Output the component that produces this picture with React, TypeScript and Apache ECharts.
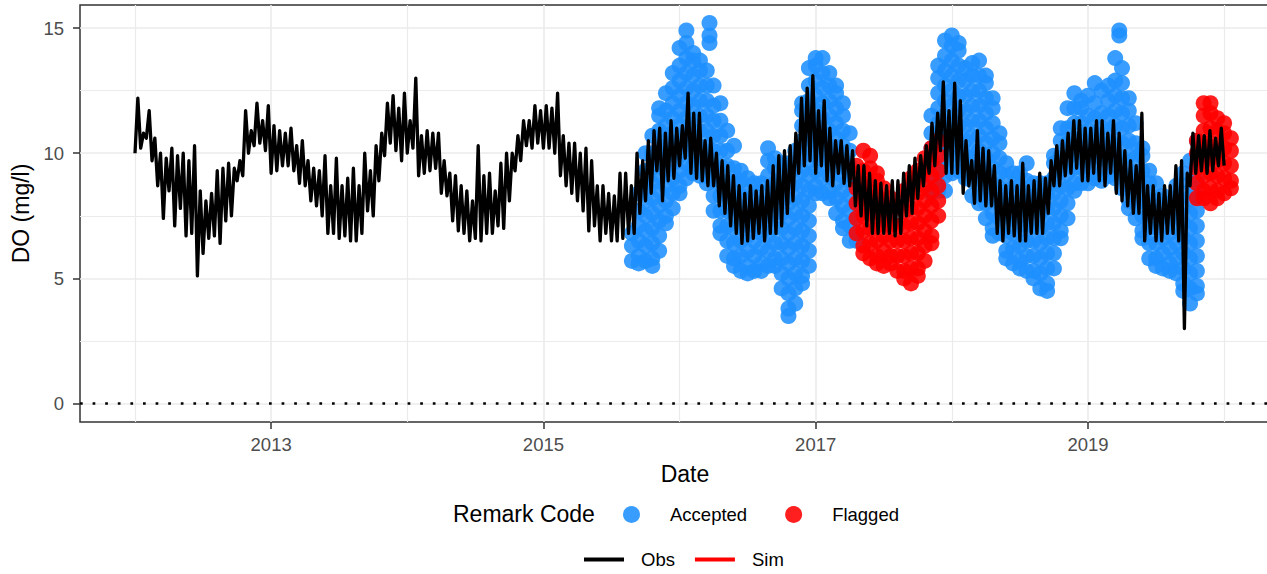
import React, { useEffect, useRef } from 'react';
import * as echarts from 'echarts';

// Obs series: regular samples (48 per year) starting 2012-01-01
const OBS_START = 2012;
const OBS_PER_YEAR = 48;
const obsValues: number[] = [
  // 2012
  10.0, 12.2, 10.2, 10.8, 10.6, 11.7, 9.7, 10.6, 8.7, 10.0, 7.4, 9.8, 8.5, 10.2, 7.1, 9.9, 7.8, 10.0, 6.7, 9.7, 6.8, 10.3, 5.1, 8.5,
  6.0, 8.1, 6.6, 8.4, 6.7, 9.3, 6.4, 9.4, 7.3, 9.6, 7.5, 9.4, 8.9, 9.7, 9.1, 11.7, 10.0, 10.9, 10.3, 12.0, 10.4, 11.3, 10.1, 11.9,
  // 2013
  9.2, 11.1, 9.3, 10.9, 9.5, 10.8, 9.5, 11.0, 9.3, 10.3, 8.8, 10.5, 8.7, 9.7, 8.1, 9.4, 7.9, 9.3, 7.5, 9.9, 6.8, 8.7, 6.8, 9.8,
  6.6, 8.7, 6.7, 9.0, 6.5, 9.4, 6.5, 8.7, 6.8, 10.0, 7.7, 9.3, 7.5, 10.3, 8.9, 10.8, 9.9, 12.0, 10.4, 12.3, 10.1, 11.8, 9.7, 12.4,
  // 2014
  10.0, 11.3, 10.2, 13.0, 9.1, 10.7, 9.2, 10.9, 9.3, 10.8, 9.4, 10.8, 8.4, 9.7, 8.3, 9.2, 7.3, 9.1, 6.9, 8.7, 6.8, 8.5, 6.5, 8.1,
  6.6, 10.3, 6.5, 9.1, 6.8, 9.2, 6.8, 8.5, 7.1, 9.6, 7.0, 10.0, 8.1, 10.0, 9.3, 10.7, 9.7, 11.3, 10.3, 11.3, 10.2, 11.9, 10.4, 11.7,
  // 2015
  10.2, 11.9, 10.2, 11.8, 10.0, 12.4, 9.1, 10.7, 8.7, 10.4, 8.4, 10.4, 8.1, 10.0, 7.7, 10.2, 6.9, 9.7, 7.1, 8.7, 6.5, 8.7, 6.8, 8.4,
  6.5, 8.3, 6.5, 9.2, 6.6, 9.2, 6.8, 8.7, 6.8, 10.0, 7.6, 9.7, 8.1, 10.5, 8.4, 10.9, 9.3, 11.0, 8.1, 10.8, 8.9, 11.3, 9.0, 11.0,
  // 2016
  9.5, 11.1, 9.8, 12.4, 9.2, 11.6, 9.0, 11.6, 8.9, 10.5, 8.7, 10.6, 8.7, 10.0, 7.9, 9.7, 7.6, 9.5, 7.1, 9.1, 6.8, 8.7, 6.4, 8.4,
  6.5, 8.7, 6.6, 8.5, 6.8, 8.7, 6.5, 8.9, 6.8, 9.5, 6.8, 9.9, 7.1, 10.1, 7.6, 10.3, 8.1, 10.8, 9.2, 12.2, 9.5, 12.6, 9.7, 13.1,
  // 2017
  9.2, 11.7, 9.5, 12.1, 8.9, 11.0, 8.7, 10.5, 9.2, 10.5, 8.8, 10.3, 8.7, 10.1, 7.9, 9.5, 7.5, 9.5, 7.1, 9.2, 6.8, 8.9, 6.8, 8.8,
  6.8, 8.7, 6.8, 8.9, 6.7, 8.9, 6.8, 9.2, 7.5, 9.5, 7.6, 9.8, 8.2, 9.9, 8.7, 10.3, 9.2, 11.2, 9.5, 11.6, 10.1, 12.85, 9.2, 11.7,
  // 2018
  9.2, 12.8, 9.2, 12.1, 8.4, 10.5, 8.7, 9.7, 8.0, 10.9, 8.1, 10.2, 7.9, 10.1, 7.9, 9.5, 6.8, 8.9, 6.5, 8.7, 6.8, 8.9, 6.7, 8.7,
  6.5, 9.6, 6.5, 8.7, 6.8, 8.9, 6.8, 9.2, 6.8, 9.0, 7.6, 9.7, 8.7, 10.3, 8.7, 10.5, 9.1, 10.8, 9.2, 11.3, 9.4, 11.3, 8.9, 11.0,
  // 2019
  8.9, 11.0, 9.2, 11.3, 8.9, 11.3, 8.7, 10.8, 9.2, 11.3, 8.4, 10.8, 8.1, 10.1, 7.9, 9.7, 7.6, 9.5, 7.6, 11.6, 6.5, 8.7, 6.8, 8.7,
  6.5, 8.4, 6.5, 8.7, 6.8, 8.7, 6.8, 9.5, 6.5, 9.7, 3.0, 9.2, 8.7, 10.8, 9.2, 10.7, 9.3, 10.7, 9.2, 10.9, 9.3, 10.6, 9.5, 11.0,
  // 2020
  9.5,
];

// Sim series (no values drawn in the reference)
const simValues: number[][] = [];

// Remark code points: [date (decimal year), readings...]
const acceptedRows: number[][] = [
  [2015.65, 5.7, 6.3, 6.8],
  [2015.70, 5.6, 5.9, 6.5, 7.1, 7.7, 8.4],
  [2015.75, 5.7, 6.3, 6.9, 7.5, 8.1, 8.7, 9.3, 10.0],
  [2015.80, 5.5, 5.8, 6.4, 7.0, 7.6, 8.2, 8.8, 9.4, 10.0, 10.7],
  [2015.85, 6.1, 6.7, 7.3, 7.9, 8.5, 9.1, 9.7, 10.3, 10.9, 11.5, 11.8],
  [2015.90, 7.2, 7.5, 8.1, 8.7, 9.3, 9.9, 10.5, 11.1, 11.7, 12.4],
  [2015.95, 7.8, 8.4, 9.0, 9.6, 10.2, 10.8, 11.4, 12.0, 12.6, 13.2],
  [2016.00, 8.4, 8.7, 9.3, 9.9, 10.5, 11.1, 11.7, 12.3, 12.9, 13.5, 14.2],
  [2016.05, 9.0, 9.6, 10.2, 10.8, 11.4, 12.0, 12.6, 13.2, 13.8, 14.4, 14.9],
  [2016.10, 9.2, 9.5, 10.1, 10.7, 11.3, 11.9, 12.5, 13.1, 13.7, 14.0],
  [2016.15, 9.1, 9.7, 10.3, 10.9, 11.5, 12.1, 12.7, 13.3, 13.7],
  [2016.20, 8.8, 9.1, 9.7, 10.3, 10.9, 11.5, 12.1, 12.7, 13.3],
  [2016.22, 14.4, 14.7, 15.2],
  [2016.25, 7.7, 8.3, 8.9, 9.5, 10.1, 10.7, 11.3, 11.9, 12.7],
  [2016.30, 6.8, 7.1, 7.7, 8.3, 8.9, 9.5, 10.1, 10.7, 11.3, 12.0],
  [2016.35, 5.9, 6.5, 7.1, 7.7, 8.3, 8.9, 9.5, 10.1, 10.9],
  [2016.40, 5.5, 5.8, 6.4, 7.0, 7.6, 8.2, 8.8, 9.4, 10.3],
  [2016.45, 5.3, 5.9, 6.5, 7.1, 7.7, 8.3, 8.9, 9.3],
  [2016.50, 5.2, 5.5, 6.1, 6.7, 7.3, 7.9, 8.5, 9.0],
  [2016.55, 5.3, 5.9, 6.5, 7.1, 7.7, 8.3, 8.8],
  [2016.60, 5.3, 5.6, 6.2, 6.8, 7.4, 8.0, 8.8],
  [2016.65, 5.5, 6.1, 6.7, 7.3, 7.9, 8.5, 9.1, 9.7, 10.2],
  [2016.70, 5.5, 5.8, 6.4, 7.0, 7.6, 8.2, 8.8, 9.4, 9.8],
  [2016.75, 4.6, 5.2, 5.8, 6.4, 7.0, 7.6, 8.2, 8.8, 9.6],
  [2016.80, 3.5, 3.8, 4.4, 5.0, 5.6, 6.2, 6.8, 7.4, 8.0, 8.6, 9.2, 9.6],
  [2016.85, 4.0, 4.6, 5.2, 5.8, 6.4, 7.0, 7.6, 8.2, 8.8, 9.4, 10.1],
  [2016.90, 4.8, 5.1, 5.7, 6.3, 6.9, 7.5, 8.1, 8.7, 9.3, 9.9, 10.5, 11.1, 11.7, 12.0],
  [2016.95, 5.5, 6.1, 6.7, 7.3, 7.9, 8.5, 9.1, 9.7, 10.3, 10.9, 11.5, 12.1, 12.7, 13.4],
  [2017.00, 8.4, 8.7, 9.3, 9.9, 10.5, 11.1, 11.7, 12.3, 12.9, 13.5, 13.8],
  [2017.05, 8.4, 9.0, 9.6, 10.2, 10.8, 11.4, 12.0, 12.6, 13.2, 13.8],
  [2017.10, 8.2, 8.5, 9.1, 9.7, 10.3, 10.9, 11.5, 12.1, 12.7, 13.2],
  [2017.15, 7.6, 8.2, 8.8, 9.4, 10.0, 10.6, 11.2, 11.8, 12.4, 12.7],
  [2017.20, 7.0, 7.3, 7.9, 8.5, 9.1, 9.7, 10.3, 10.9, 11.5, 12.0],
  [2017.25, 6.5, 7.1, 7.7, 8.3, 8.9, 9.5, 10.1, 10.8],
  [2017.30, 6.5, 6.8, 7.4, 8.0],
  [2017.85, 8.4, 9.0, 9.6, 10.2, 10.8, 11.5],
  [2017.90, 8.5, 8.8, 9.4, 10.0, 10.6, 11.2, 11.8, 12.4, 13.0, 13.5],
  [2017.95, 8.5, 9.1, 9.7, 10.3, 10.9, 11.5, 12.1, 12.7, 13.3, 13.9, 14.5],
  [2018.00, 9.2, 9.5, 10.1, 10.7, 11.3, 11.9, 12.5, 13.1, 13.7, 14.3, 14.7],
  [2018.05, 9.3, 9.9, 10.5, 11.1, 11.7, 12.3, 12.9, 13.5, 14.1, 14.4],
  [2018.10, 9.0, 9.3, 9.9, 10.5, 11.1, 11.7, 12.3, 12.9, 13.4],
  [2018.15, 8.3, 8.9, 9.5, 10.1, 10.7, 11.3, 11.9, 12.5, 13.1, 13.6],
  [2018.20, 8.0, 8.3, 8.9, 9.5, 10.1, 10.7, 11.3, 11.9, 12.5, 13.1, 13.7],
  [2018.25, 7.4, 8.0, 8.6, 9.2, 9.8, 10.4, 11.0, 11.6, 12.2, 12.8, 13.1],
  [2018.30, 6.7, 7.0, 7.6, 8.2, 8.8, 9.4, 10.0, 10.6, 11.2, 11.8, 12.2],
  [2018.35, 6.8, 7.4, 8.0, 8.6, 9.2, 9.8, 10.4, 10.8],
  [2018.40, 5.8, 6.1, 6.7, 7.3, 7.9, 8.5, 9.1, 9.6],
  [2018.45, 5.6, 6.2, 6.8, 7.4, 8.0, 8.6, 9.2],
  [2018.50, 5.4, 5.7, 6.3, 6.9, 7.5, 8.1, 8.7, 9.2],
  [2018.55, 5.3, 5.9, 6.5, 7.1, 7.7, 8.3, 8.9, 9.6],
  [2018.60, 5.0, 5.3, 5.9, 6.5, 7.1, 7.7, 8.3, 8.8],
  [2018.65, 4.6, 5.2, 5.8, 6.4, 7.0, 7.6, 8.2, 8.8],
  [2018.70, 4.5, 4.8, 5.4, 6.0, 6.6, 7.2, 7.8, 8.4, 8.8],
  [2018.75, 5.4, 6.0, 6.6, 7.2, 7.8, 8.4, 9.0, 9.6, 9.9],
  [2018.80, 6.6, 6.9, 7.5, 8.1, 8.7, 9.3, 9.9, 10.5, 11.0],
  [2018.85, 7.4, 8.0, 8.6, 9.2, 9.8, 10.4, 11.0, 11.8],
  [2018.90, 8.5, 8.8, 9.4, 10.0, 10.6, 11.2, 11.8, 12.4],
  [2018.95, 8.8, 9.4, 10.0, 10.6, 11.2, 11.8, 12.1],
  [2019.00, 8.8, 9.1, 9.7, 10.3, 10.9, 11.5, 12.3],
  [2019.05, 9.0, 9.6, 10.2, 10.8, 11.4, 12.0, 12.8],
  [2019.10, 8.9, 9.2, 9.8, 10.4, 11.0, 11.6, 12.5],
  [2019.15, 9.1, 9.7, 10.3, 10.9, 11.5, 12.1, 12.7],
  [2019.20, 9.0, 9.3, 9.9, 10.5, 11.1, 11.7, 12.3, 12.9, 13.8],
  [2019.23, 14.7, 14.9],
  [2019.25, 8.6, 9.2, 9.8, 10.4, 11.0, 11.6, 12.2, 12.8, 13.4],
  [2019.30, 7.8, 8.1, 8.7, 9.3, 9.9, 10.5, 11.1, 11.7, 12.2],
  [2019.35, 7.4, 8.0, 8.6, 9.2, 9.8, 10.4, 11.2],
  [2019.40, 6.6, 6.9, 7.5, 8.1, 8.7, 9.3, 9.9, 10.2],
  [2019.45, 5.8, 6.4, 7.0, 7.6, 8.2, 8.8, 9.3],
  [2019.50, 5.5, 5.8, 6.4, 7.0, 7.6, 8.2, 8.8],
  [2019.55, 5.4, 6.0, 6.6, 7.2, 7.8, 8.3],
  [2019.60, 5.3, 5.6, 6.2, 6.8, 7.4, 8.0],
  [2019.65, 5.2, 5.8, 6.4, 7.0, 7.6, 8.2, 8.7],
  [2019.70, 4.5, 4.8, 5.4, 6.0, 6.6, 7.2, 7.8, 8.4, 9.2],
  [2019.75, 4.0, 4.6, 5.2, 5.8, 6.4, 7.0, 7.6, 8.2, 8.8, 9.7],
  [2019.80, 4.4, 4.7, 5.3, 5.9, 6.5, 7.1, 7.7, 8.3, 8.9, 9.5, 10.5],
];

const flaggedRows: number[][] = [
  [2017.30, 6.8, 7.4, 8.0, 8.6, 9.2, 9.5],
  [2017.35, 6.0, 6.3, 6.9, 7.5, 8.1, 8.7, 9.3, 10.1],
  [2017.40, 5.8, 6.4, 7.0, 7.6, 8.2, 8.8, 9.4, 9.9],
  [2017.45, 5.6, 5.9, 6.5, 7.1, 7.7, 8.3, 8.9, 9.2],
  [2017.50, 5.5, 6.1, 6.7, 7.3, 7.9, 8.6],
  [2017.55, 5.6, 5.9, 6.5, 7.1, 7.7, 8.2],
  [2017.60, 5.3, 5.9, 6.5, 7.1, 7.9],
  [2017.65, 5.0, 5.3, 5.9, 6.5, 7.1, 7.7, 8.5],
  [2017.70, 4.8, 5.4, 6.0, 6.6, 7.2, 7.8, 8.4, 9.0],
  [2017.75, 5.1, 5.4, 6.0, 6.6, 7.2, 7.8, 8.4, 9.0, 9.3],
  [2017.80, 5.7, 6.3, 6.9, 7.5, 8.1, 8.7, 9.3, 9.8],
  [2017.85, 6.4, 6.7, 7.3, 7.9, 8.5, 9.1, 9.7, 10.2],
  [2017.90, 7.5, 8.1, 8.7, 9.3, 9.9, 10.5],
  [2019.80, 8.2, 8.8, 9.4, 10.0, 10.5],
  [2019.85, 8.2, 8.5, 9.1, 9.7, 10.3, 10.9, 11.5, 12.0],
  [2019.90, 8.0, 8.6, 9.2, 9.8, 10.4, 11.0, 11.6, 12.0],
  [2019.95, 8.2, 8.5, 9.1, 9.7, 10.3, 10.9, 11.4],
  [2020.00, 8.4, 9.0, 9.6, 10.2, 10.8, 11.2],
  [2020.05, 8.6, 8.9, 9.5, 10.1, 10.6],
];

const xMajorTicks = [2013, 2015, 2017, 2019];
const xMinorTicks = [2012, 2014, 2016, 2018, 2020];
const yMajorTicks = [0, 5, 10, 15];
const yMinorTicks = [2.5, 7.5, 12.5];
const xRange = [2011.596, 2020.484];
const yRange = [-0.735, 15.92];
const zeroLine = 0;

const FONT = "'Liberation Sans', Arial, Helvetica, sans-serif";

function rowsToPoints(rows: number[][]): number[][] {
  const pts: number[][] = [];
  rows.forEach((row) => {
    const x = row[0];
    for (let i = 1; i < row.length; i++) pts.push([x, row[i]]);
  });
  return pts;
}

export default function App() {
  const ref = useRef<HTMLDivElement>(null);

  useEffect(() => {
    if (!ref.current) return;
    const chart = echarts.init(ref.current, undefined, { renderer: 'svg' });

    const obsData = obsValues.map((v, i) => [OBS_START + i / OBS_PER_YEAR, v]);

    const gridLine = '#EBEBEB';
    const xAxisBase = {
      type: 'value',
      min: xRange[0],
      max: xRange[1],
      position: 'bottom',
      axisLine: { show: false, onZero: false },
    };
    const yAxisBase = {
      type: 'value',
      min: yRange[0],
      max: yRange[1],
      position: 'left',
      axisLine: { show: false, onZero: false },
    };

    const option: any = {
      animation: false,
      backgroundColor: '#ffffff',
      textStyle: { fontFamily: FONT },
      title: {
        text: 'Remark Code',
        left: 453,
        top: 502,
        padding: 0,
        textStyle: { fontSize: 23, fontWeight: 'normal', color: '#000', fontFamily: FONT },
      },
      legend: [
        {
          data: ['Accepted', 'Flagged'],
          left: 623,
          top: 505,
          padding: 0,
          icon: 'circle',
          itemWidth: 17,
          itemHeight: 17,
          itemGap: 38,
          selectedMode: false,
          textStyle: { fontSize: 18.5, color: '#000', fontFamily: FONT, padding: [0, 0, 0, 25] },
        },
        {
          data: ['Obs', 'Sim'],
          left: 584,
          top: 550,
          padding: 0,
          icon: 'rect',
          itemWidth: 40,
          itemHeight: 4,
          itemGap: 20,
          selectedMode: false,
          textStyle: { fontSize: 18.5, color: '#000', fontFamily: FONT, padding: [0, 0, 0, 12] },
        },
      ],
      grid: {
        left: 80,
        top: 5,
        right: 10,
        bottom: 152,
        show: true,
        borderColor: '#333333',
        borderWidth: 1.5,
        backgroundColor: 'transparent',
      },
      xAxis: [
        {
          ...xAxisBase,
          name: 'Date',
          nameLocation: 'middle',
          nameGap: 40,
          nameTextStyle: { fontSize: 23, color: '#000', fontFamily: FONT },
          axisTick: { show: true, customValues: xMajorTicks, length: 7, lineStyle: { color: '#333333', width: 1.5 } },
          axisLabel: {
            show: true,
            customValues: xMajorTicks,
            formatter: (v: number) => String(Math.round(v)),
            fontSize: 18.5,
            color: '#4D4D4D',
            margin: 13,
            fontFamily: FONT,
          },
          splitLine: { show: true, lineStyle: { color: gridLine, width: 1.6 } },
        },
        {
          ...xAxisBase,
          axisTick: { show: false, customValues: xMinorTicks },
          axisLabel: { show: false, customValues: xMinorTicks },
          splitLine: { show: true, lineStyle: { color: gridLine, width: 1.2 } },
        },
      ],
      yAxis: [
        {
          ...yAxisBase,
          name: 'DO (mg/l)',
          nameLocation: 'middle',
          nameRotate: 90,
          nameGap: 44,
          nameTextStyle: { fontSize: 23, color: '#000', fontFamily: FONT },
          axisTick: { show: true, customValues: yMajorTicks, length: 7, lineStyle: { color: '#333333', width: 1.5 } },
          axisLabel: {
            show: true,
            customValues: yMajorTicks,
            formatter: (v: number) => String(Math.round(v)),
            fontSize: 18.5,
            color: '#4D4D4D',
            margin: 16,
            fontFamily: FONT,
          },
          splitLine: { show: true, lineStyle: { color: gridLine, width: 1.6 } },
        },
        {
          ...yAxisBase,
          axisTick: { show: false, customValues: yMinorTicks },
          axisLabel: { show: false, customValues: yMinorTicks },
          splitLine: { show: true, lineStyle: { color: gridLine, width: 1.2 } },
        },
      ],
      series: [
        {
          name: 'Accepted',
          type: 'scatter',
          xAxisIndex: 0,
          yAxisIndex: 0,
          symbol: 'circle',
          symbolSize: 16,
          silent: true,
          z: 2,
          itemStyle: { color: '#1E90FF', opacity: 0.88 },
          data: rowsToPoints(acceptedRows),
        },
        {
          name: 'Flagged',
          type: 'scatter',
          xAxisIndex: 0,
          yAxisIndex: 0,
          symbol: 'circle',
          symbolSize: 16,
          silent: true,
          z: 3,
          itemStyle: { color: '#FF0000', opacity: 0.88 },
          data: rowsToPoints(flaggedRows),
        },
        {
          name: 'Obs',
          type: 'line',
          xAxisIndex: 0,
          yAxisIndex: 0,
          showSymbol: false,
          symbol: 'none',
          silent: true,
          z: 4,
          itemStyle: { color: '#000000' },
          lineStyle: { color: '#000000', width: 3.3, join: 'round' },
          data: obsData,
          markLine: {
            silent: true,
            symbol: 'none',
            label: { show: false },
            lineStyle: { color: '#000000', type: [2.7, 9.9], width: 2.7, cap: 'butt' },
            data: [{ yAxis: zeroLine }],
          },
        },
        {
          name: 'Sim',
          type: 'line',
          xAxisIndex: 0,
          yAxisIndex: 0,
          showSymbol: false,
          symbol: 'none',
          silent: true,
          z: 4,
          itemStyle: { color: '#FF0000' },
          lineStyle: { color: '#FF0000', width: 3.3 },
          data: simValues,
        },
      ],
    };

    chart.setOption(option);
    return () => {
      chart.dispose();
    };
  }, []);

  return (
    <div
      style={{
        position: 'fixed',
        left: 0,
        top: 0,
        width: 1267,
        height: 574,
        overflow: 'hidden',
        background: '#fff',
      }}
    >
      <div ref={ref} style={{ width: 1300, height: 574 }} />
    </div>
  );
}
